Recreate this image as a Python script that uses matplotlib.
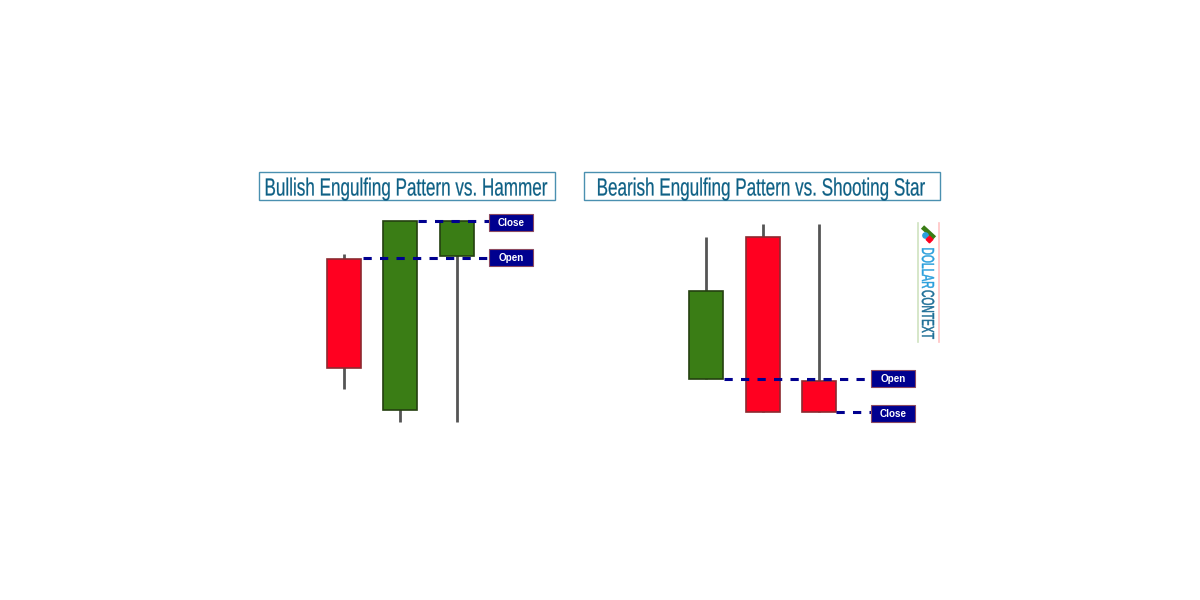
import matplotlib
matplotlib.use("Agg")
import matplotlib.pyplot as plt
from matplotlib.patches import Rectangle
from matplotlib.patheffects import AbstractPathEffect
from matplotlib.transforms import Affine2D

# Candle values (price scale = 600 - pixel row)
left_x = [344, 400, 457]
left_open = [341, 190, 344]
left_close = [232, 379, 379]
left_high = [346, 379, 379]
left_low = [211, 178, 178]

right_x = [706, 763, 819]
right_open = [221, 363, 219]
right_close = [309, 188, 188]
right_high = [363, 376, 376]
right_low = [221, 188, 188]

# Level lines: price and where the dashes start
left_levels = [342, 379]
left_starts = [363, 418]
right_levels = [221, 188]
right_starts = [724, 836]
left_labels = ["Open", "Close"]
right_labels = ["Open", "Close"]

GREEN = "#3a7d15"
RED = "#ff0020"
NAVY = "#00008f"


# No condensed font is installed, so stretch the glyphs upwards instead
class TallText(AbstractPathEffect):
    def __init__(self, factor, weight):
        super().__init__()
        self.factor = factor
        self.weight = weight

    def draw_path(self, renderer, gc, tpath, affine, rgbFace=None):
        gc.set_linewidth(self.weight)
        gc.set_foreground(rgbFace)
        renderer.draw_path(gc, tpath, Affine2D().scale(1, self.factor) + affine, rgbFace)


def draw_candles(ax, xs, opens, closes, highs, lows):
    for x, o, c, h, l in zip(xs, opens, closes, highs, lows):
        ax.plot([x, x], [l, h], color="#555555", lw=2, zorder=2, solid_capstyle="butt")
        color = GREEN if c > o else RED
        edge = "#24400f" if c > o else "#8c2a30"
        ax.add_patch(Rectangle((x - 17, min(o, c)), 34, abs(c - o), facecolor=color,
                               edgecolor=edge, lw=1.2, zorder=3))


def draw_levels(ax, levels, starts, labels, box_x):
    for y, start, label in zip(levels, starts, labels):
        ax.plot([start, box_x], [y, y], color=NAVY, lw=2.2, dashes=(2.7, 2.7), zorder=4)
        box_y = y - 10 if label == "Close" else y - 8
        ax.add_patch(Rectangle((box_x, box_y), 43.5, 17, facecolor=NAVY,
                               edgecolor="#8c4a60", lw=0.8, zorder=5))
        ax.text(box_x + 22, box_y + 8.2, label, color="white", fontsize=7.1,
                fontweight="bold", family="Liberation Sans", ha="center", va="center", zorder=6)


def draw_title(ax, text, x0, x1, size):
    ax.add_patch(Rectangle((x0, 400), x1 - x0, 28, facecolor="white", edgecolor="#4a90b0", lw=1))
    ax.text((x0 + x1) / 2, 404.5, text, color="#0e6085", fontsize=size, family="Liberation Sans",
            ha="center", va="baseline", path_effects=[TallText(1.45, 0.15)])


fig = plt.figure(figsize=(12, 6), dpi=100)
ax = fig.add_axes([0, 0, 1, 1])
ax.set_xlim(0.5, 1200.5)
ax.set_ylim(0, 600)
ax.axis("off")

draw_title(ax, "Bullish Engulfing Pattern vs. Hammer", 259.5, 555, 12.3)
draw_title(ax, "Bearish Engulfing Pattern vs. Shooting Star", 584.5, 940, 12.3)

draw_candles(ax, left_x, left_open, left_close, left_high, left_low)
draw_candles(ax, right_x, right_open, right_close, right_high, right_low)
draw_levels(ax, left_levels, left_starts, left_labels, 489.5)
draw_levels(ax, right_levels, right_starts, right_labels, 871.5)

# Logo strip on the right
ax.plot([918, 918], [258, 377], color="#cfe3c0", lw=1.2)
ax.plot([939, 939], [258, 377], color="#ffc4c4", lw=1.2)
ax.plot([923, 935], [373, 362], color="#3a7d15", lw=3.4, solid_capstyle="butt")
ax.plot([925], [365], "o", color="#2a9fdc", ms=3.8)
ax.plot([929.5], [361], "D", color="#ff0020", ms=3.4)
ax.text(922.5, 352.5, "DOLLAR", rotation=-90, rotation_mode="anchor", color="#2a9fdc", fontsize=7.4,
        family="Liberation Sans", ha="left", va="baseline", path_effects=[TallText(1.7, 0.35)])
ax.text(922.5, 310, "CONTEXT", rotation=-90, rotation_mode="anchor", color="#1f6f97", fontsize=7.4,
        family="Liberation Sans", ha="left", va="baseline", path_effects=[TallText(1.7, 0.35)])

fig.savefig("out.png", dpi=100)
